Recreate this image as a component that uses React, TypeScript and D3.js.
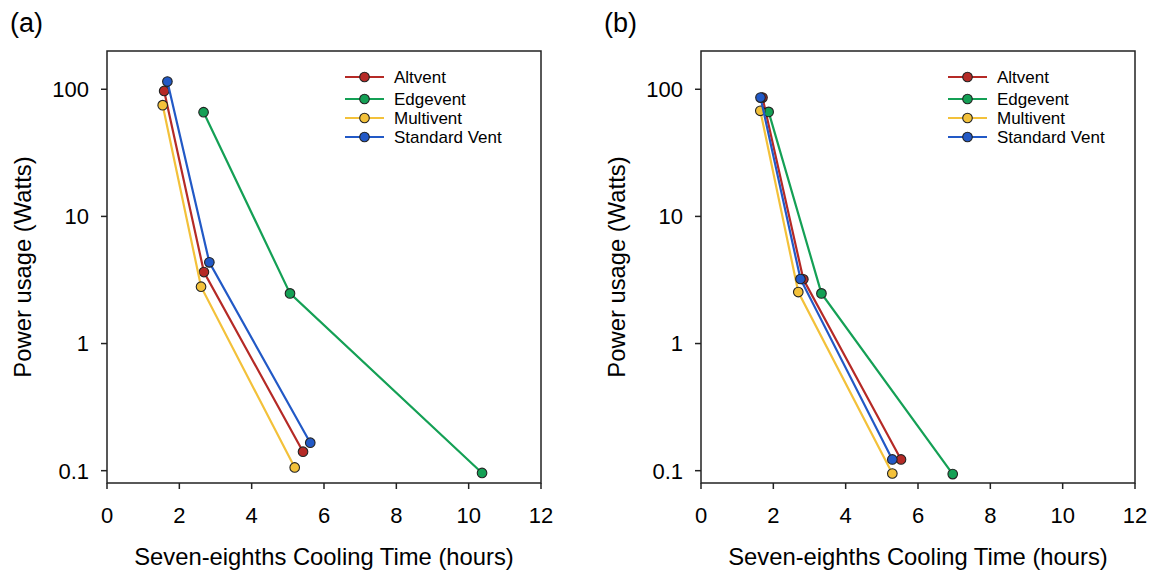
import React from "react";
import * as d3 from "d3";

const xTicks = [0, 2, 4, 6, 8, 10, 12];
const yTicks = [0.1, 1, 10, 100];
const seriesNames = ["Altvent", "Edgevent", "Multivent", "Standard Vent"];
const seriesColors = ["#b52a26", "#14a055", "#f3c13a", "#2259c6"];

// Panel (a)
const altventA_x = [1.58, 2.68, 5.42];
const altventA_y = [97, 3.65, 0.141];
const edgeventA_x = [2.67, 5.06, 10.37];
const edgeventA_y = [66, 2.48, 0.096];
const multiventA_x = [1.54, 2.6, 5.19];
const multiventA_y = [75, 2.8, 0.106];
const standardA_x = [1.67, 2.83, 5.62];
const standardA_y = [115, 4.35, 0.166];

// Panel (b)
const altventB_x = [1.7, 2.83, 5.53];
const altventB_y = [86, 3.2, 0.1225];
const edgeventB_x = [1.87, 3.33, 6.96];
const edgeventB_y = [66.4, 2.48, 0.094];
const multiventB_x = [1.64, 2.69, 5.29];
const multiventB_y = [67.7, 2.54, 0.095];
const standardB_x = [1.645, 2.75, 5.29];
const standardB_y = [86, 3.22, 0.1225];

const panels = [
  {
    label: "(a)",
    left: 107,
    legendDx: 238,
    series: [
      [altventA_x, altventA_y],
      [edgeventA_x, edgeventA_y],
      [multiventA_x, multiventA_y],
      [standardA_x, standardA_y],
    ],
  },
  {
    label: "(b)",
    left: 701,
    legendDx: 247,
    series: [
      [altventB_x, altventB_y],
      [edgeventB_x, edgeventB_y],
      [multiventB_x, multiventB_y],
      [standardB_x, standardB_y],
    ],
  },
];

const TOP = 51;
const BOTTOM = 483;
const WIDTH = 434;
const legendRows = [77, 99, 118, 137];
const FONT = "Arial, 'Liberation Sans', sans-serif";

function Panel({ p }: { p: (typeof panels)[number] }) {
  const x = d3.scaleLinear().domain([0, 12]).range([p.left, p.left + WIDTH]);
  const y = d3.scaleLog().domain([0.08, 200]).range([BOTTOM, TOP]);
  const line = d3
    .line<[number, number]>()
    .x((d) => x(d[0]))
    .y((d) => y(d[1]));
  return (
    <g>
      <text x={p.left - 97} y={32} fontSize={27} fontFamily={FONT} fill="#000">
        {p.label}
      </text>
      <rect
        x={p.left}
        y={TOP}
        width={WIDTH}
        height={BOTTOM - TOP}
        fill="none"
        stroke="#222"
        strokeWidth={1.5}
      />
      {xTicks.map((t) => (
        <g key={"x" + t}>
          <line x1={x(t)} x2={x(t)} y1={BOTTOM} y2={BOTTOM + 6} stroke="#222" strokeWidth={1.5} />
          <text
            x={x(t)}
            y={523}
            textAnchor="middle"
            fontSize={22}
            fontFamily={FONT}
            fill="#000"
          >
            {t}
          </text>
        </g>
      ))}
      {yTicks.map((t) => (
        <g key={"y" + t}>
          <line x1={p.left - 6} x2={p.left} y1={y(t)} y2={y(t)} stroke="#222" strokeWidth={1.5} />
          <text
            x={p.left - 18}
            y={y(t)}
            dy="0.36em"
            textAnchor="end"
            fontSize={22}
            fontFamily={FONT}
            fill="#000"
          >
            {t}
          </text>
        </g>
      ))}
      <text
        x={p.left + WIDTH / 2}
        y={565}
        textAnchor="middle"
        fontSize={23.8}
        fontFamily={FONT}
        fill="#000"
      >
        Seven-eighths Cooling Time (hours)
      </text>
      <text
        transform={`translate(${p.left - 76},${(TOP + BOTTOM) / 2}) rotate(-90)`}
        textAnchor="middle"
        fontSize={23.8}
        fontFamily={FONT}
        fill="#000"
      >
        Power usage (Watts)
      </text>
      {p.series.map(([xs, ys], i) => {
        const pts = xs.map((v, j) => [v, ys[j]] as [number, number]);
        return (
          <g key={"s" + i}>
            <path d={line(pts) || ""} fill="none" stroke={seriesColors[i]} strokeWidth={2.2} />
            {pts.map((d, j) => (
              <circle
                key={j}
                cx={x(d[0])}
                cy={y(d[1])}
                r={4.8}
                fill={seriesColors[i]}
                stroke="#222"
                strokeWidth={1.1}
              />
            ))}
          </g>
        );
      })}
      {seriesNames.map((name, i) => {
        const lx = p.left + p.legendDx;
        const ly = legendRows[i];
        return (
          <g key={"l" + i}>
            <line x1={lx} x2={lx + 39} y1={ly} y2={ly} stroke={seriesColors[i]} strokeWidth={2.2} />
            <circle cx={lx + 19.5} cy={ly} r={4.8} fill={seriesColors[i]} stroke="#222" strokeWidth={1.1} />
            <text
              x={lx + 49}
              y={ly}
              dy="0.36em"
              fontSize={17}
              fontFamily={FONT}
              fill="#000"
            >
              {name}
            </text>
          </g>
        );
      })}
    </g>
  );
}

export default function App() {
  return (
    <svg
      width={1151}
      height={573}
      style={{ position: "absolute", left: 0, top: 0, background: "#fff" }}
    >
      <rect width={1151} height={573} fill="#fff" />
      {panels.map((p) => (
        <Panel key={p.label} p={p} />
      ))}
    </svg>
  );
}
